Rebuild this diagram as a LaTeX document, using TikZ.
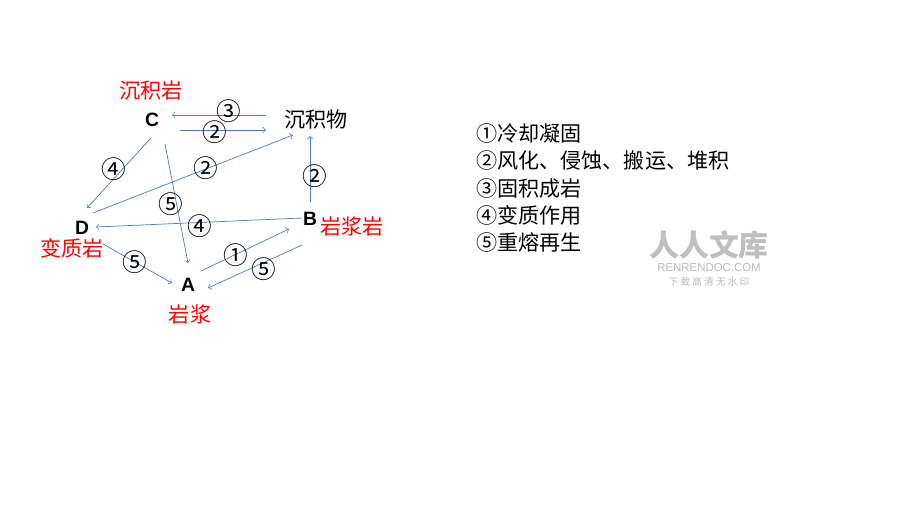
\documentclass[tikz,border=0pt]{standalone}
\usepackage{fontspec}
\newfontfamily\cjk{Noto Sans CJK SC}
\newfontfamily\lat{Liberation Sans}
\definecolor{arr}{RGB}{74,126,187}
\begin{document}
\begin{tikzpicture}[x=0.02cm,y=-0.02cm,
    flow/.style={->,arr,thin},
    num/.style={font=\cjk\fontsize{14}{16}\selectfont,inner sep=0pt},
    rock/.style={font=\cjk\fontsize{12}{14}\selectfont,red},
    letter/.style={font=\lat\bfseries\fontsize{11}{13}\selectfont}]
            \useasboundingbox (0,0) rectangle (920,518);

            \coordinate (C1) at (266,115);
            \coordinate (C2) at (172,115);
            \coordinate (C3) at (180,130);
            \coordinate (C4) at (266,130);
            \coordinate (C5) at (151,138);
            \coordinate (C6) at (87,208);
            \coordinate (C7) at (93,213);
            \coordinate (C8) at (293,135);
            \coordinate (C9) at (165,144);
            \coordinate (C10) at (188,263);
            \coordinate (C11) at (302,218);
            \coordinate (C12) at (96,227);
            \coordinate (C13) at (103,244);
            \coordinate (C14) at (172,283);
            \coordinate (C15) at (201,271);
            \coordinate (C16) at (289,229);
            \coordinate (C17) at (302,245);
            \coordinate (C18) at (208,288);
            \coordinate (C19) at (310,202);
            \coordinate (C20) at (310,136);

            \node[letter] (C) at (152,120) {C};
            \node[letter] (D) at (82,228) {D};
            \node[letter] (B) at (310,219) {B};
            \node[letter] (A) at (188,285) {A};
            \node[font=\cjk\fontsize{12}{14}\selectfont] (SED) at (316,119) {沉积物};

            \node[rock] (SR) at (151,90) {沉积岩};
            \node[rock] (MR) at (72,248) {变质岩};
            \node[rock] (IR) at (352,226) {岩浆岩};
            \node[rock] (MG) at (190,314) {岩浆};

            \draw[flow] (C1) -- (C2);
            \draw[flow] (C3) -- (C4);
            \draw[flow] (C5) -- (C6);
            \draw[flow] (C7) -- (C8);
            \draw[flow] (C9) -- (C10);
            \draw[flow] (C11) -- (C12);
            \draw[flow] (C13) -- (C14);
            \draw[flow] (C15) -- (C16);
            \draw[flow] (C17) -- (C18);
            \draw[flow] (C19) -- (C20);

            \node[num] (N1) at (229,111) {③};
            \node[num] (N2) at (215,132) {②};
            \node[num] (N3) at (114,169) {④};
            \node[num] (N4) at (206,168) {②};
            \node[num] (N5) at (171,204) {⑤};
            \node[num] (N6) at (200,226) {④};
            \node[num] (N7) at (135,262) {⑤};
            \node[num] (N8) at (236,255) {①};
            \node[num] (N9) at (264,269) {⑤};
            \node[num] (N10) at (315,176) {②};

            % legend
            \node[anchor=west,align=left,font=\cjk\fontsize{12}{15.6}\selectfont,inner sep=0pt] (LEG) at (476,188)
              {①冷却凝固\\②风化、侵蚀、搬运、堆积\\③固积成岩\\④变质作用\\⑤重熔再生};

            % watermark
            \node[gray!50,font=\cjk\bfseries\fontsize{17}{18}\selectfont] (WM1) at (709,245) {人人文库};
            \node[gray!55,font=\lat\fontsize{6.5}{7}\selectfont] (WM2) at (709,268) {RENRENDOC.COM};
            \node[gray!55,font=\cjk\fontsize{5.5}{6}\selectfont] (WM3) at (709,282) {下 载 高 清 无 水 印};
        \end{tikzpicture}
\end{document}
